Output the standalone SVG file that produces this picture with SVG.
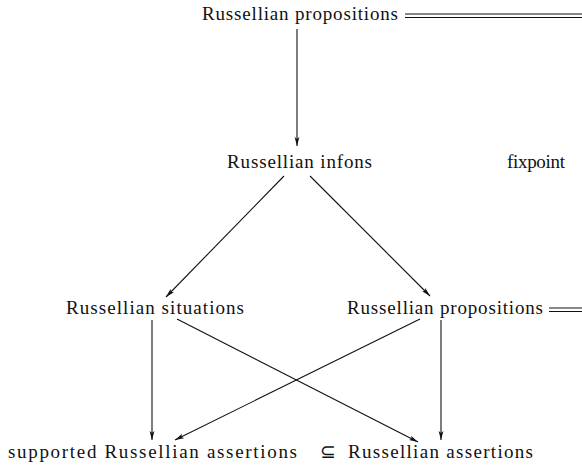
<svg xmlns="http://www.w3.org/2000/svg" width="582" height="466" viewBox="0 0 582 466">
<style>
text{font-family:"Liberation Serif","Times New Roman",serif;font-size:19px;fill:#111}
.e{stroke:#111;stroke-width:1.1;fill:none}
.a{marker-end:url(#ah)}
</style>
<defs>
<marker id="ah" markerUnits="userSpaceOnUse" markerWidth="10" markerHeight="6" viewBox="0 0 10 6" refX="9" refY="3" orient="auto">
<path d="M0,0.6 L9,3 L0,5.4 L2,3 z" fill="#111"/>
</marker>
</defs>
<g id="n-top">
<text x="202" y="20" textLength="196" lengthAdjust="spacing">Russellian propositions</text>
<line class="e" x1="405" y1="14" x2="582" y2="14"/>
<line class="e" x1="405" y1="17.5" x2="582" y2="17.5"/>
</g>
<g id="n-infons"><text x="227" y="168" textLength="145" lengthAdjust="spacing">Russellian infons</text></g>
<g id="n-fixpoint"><text x="507" y="168" textLength="58" lengthAdjust="spacing">fixpoint</text></g>
<g id="n-situations"><text x="66" y="314" textLength="178" lengthAdjust="spacing">Russellian situations</text></g>
<g id="n-props">
<text x="347" y="314" textLength="196" lengthAdjust="spacing">Russellian propositions</text>
<line class="e" x1="549" y1="308" x2="582" y2="308"/>
<line class="e" x1="549" y1="311.5" x2="582" y2="311.5"/>
</g>
<g id="n-supported"><text x="8" y="458" textLength="289" lengthAdjust="spacing">supported Russellian assertions</text></g>
<g id="n-subset"><text x="328" y="458" text-anchor="middle">⊆</text></g>
<g id="n-assertions"><text x="348" y="458" textLength="185" lengthAdjust="spacing">Russellian assertions</text></g>
<g id="connectors">
<line class="e a" x1="297" y1="29" x2="297" y2="146"/>
<line class="e a" x1="284" y1="176" x2="166" y2="297"/>
<line class="e a" x1="310" y1="176" x2="430" y2="296"/>
<line class="e a" x1="152" y1="320" x2="152" y2="440"/>
<line class="e a" x1="177" y1="319" x2="418" y2="442"/>
<line class="e a" x1="420" y1="319" x2="175" y2="440"/>
<line class="e a" x1="441" y1="320" x2="441" y2="440"/>
</g>
</svg>
